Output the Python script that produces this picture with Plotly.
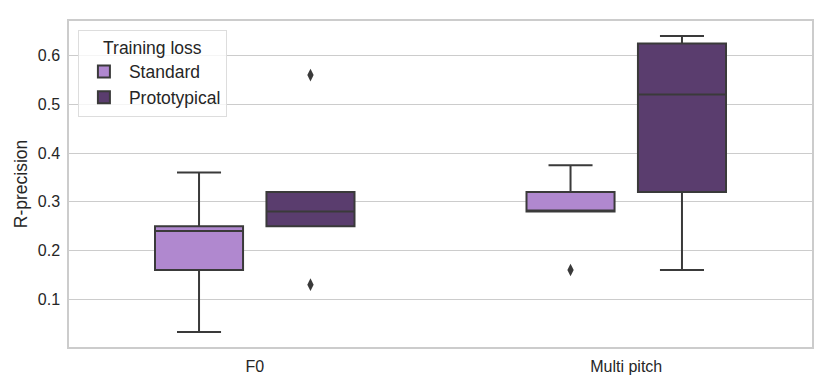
import plotly.graph_objects as go

categories = ["F0", "Multi pitch"]
losses = ["Standard", "Prototypical"]

# box statistics per loss, one value per category
q1 = {"Standard": [0.16, 0.28], "Prototypical": [0.25, 0.32]}
median = {"Standard": [0.24, 0.28], "Prototypical": [0.28, 0.52]}
q3 = {"Standard": [0.25, 0.32], "Prototypical": [0.32, 0.625]}
lower = {"Standard": [0.033, 0.28], "Prototypical": [0.25, 0.16]}
upper = {"Standard": [0.36, 0.375], "Prototypical": [0.32, 0.64]}

# outliers: (category index, value)
outliers = {"Standard": [(1, 0.16)], "Prototypical": [(0, 0.56), (0, 0.13)]}

colors = {"Standard": "#b088cf", "Prototypical": "#5a3d6e"}
offsets = {"Standard": -0.15, "Prototypical": 0.15}
box_w = 0.237

fig = go.Figure()
for loss in losses:
    xs = [i + offsets[loss] for i in range(len(categories))]
    fig.add_trace(go.Box(
        x=xs, q1=q1[loss], median=median[loss], q3=q3[loss],
        lowerfence=lower[loss], upperfence=upper[loss],
        name=loss, width=box_w, whiskerwidth=0.5,
        fillcolor=colors[loss], line=dict(color="#3a3a3a", width=2),
        hoverinfo="y", showlegend=True,
    ))
    ox = [c + offsets[loss] for c, v in outliers[loss]]
    oy = [v for c, v in outliers[loss]]
    fig.add_trace(go.Scatter(
        x=ox, y=oy, mode="markers", showlegend=False,
        marker=dict(symbol="diamond-tall", size=9, color="#3a3a3a"),
    ))

# page body adds 8px margin, so the figure is shrunk to fit the window
fig.update_layout(
    width=823, height=379,
    margin=dict(l=61, r=19, t=11, b=40),
    paper_bgcolor="white", plot_bgcolor="white",
    font=dict(family="Liberation Sans, Arial, sans-serif", size=16, color="#262626"),
    legend=dict(
        title=dict(text="Training loss", side="top center", font=dict(size=17.5)),
        x=0.012, y=0.973, xanchor="left", yanchor="top",
        bgcolor="rgba(255,255,255,0.8)", bordercolor="#dddddd", borderwidth=1,
        font=dict(size=17.5), itemwidth=40,
    ),
)
fig.update_xaxes(
    range=[-0.5, 1.5], tickvals=list(range(len(categories))), ticktext=categories,
    showgrid=False, zeroline=False, showline=True, mirror=True,
    linecolor="#cccccc", linewidth=1.5, ticks="", ticklabelstandoff=4,
)
fig.update_yaxes(
    range=[0.002, 0.671], tickvals=[0.1, 0.2, 0.3, 0.4, 0.5, 0.6],
    showgrid=True, gridcolor="#cccccc", gridwidth=1, zeroline=False,
    showline=True, mirror=True, linecolor="#cccccc", linewidth=1.5, ticks="",
    ticklabelstandoff=4,
    title=dict(text="R-precision", standoff=6, font=dict(size=17.5)),
)

fig.write_html("out.html")
